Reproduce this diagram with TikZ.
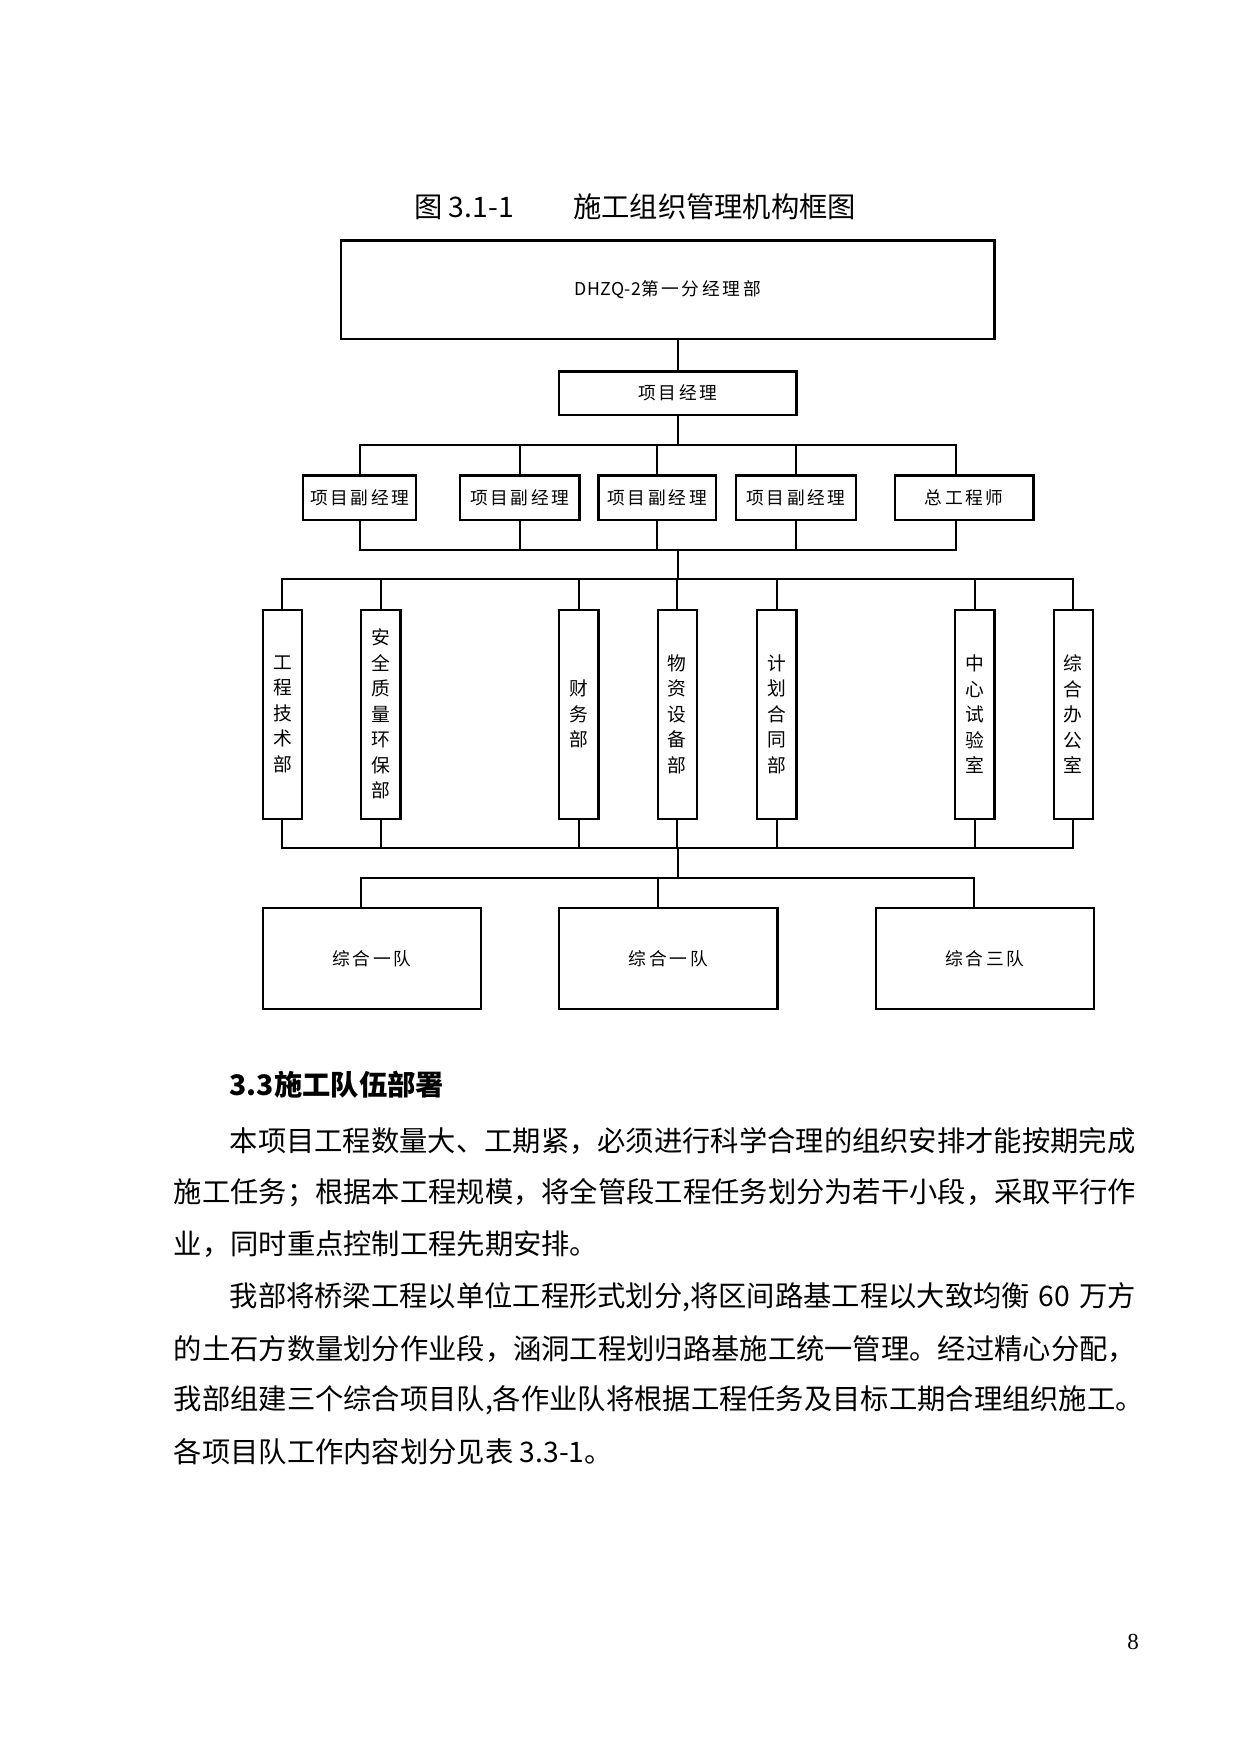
\documentclass[tikz,border=0pt]{standalone}
\usepackage{fontspec}
\setmainfont{Noto Sans CJK SC}
\newfontfamily\pagefont{Liberation Serif}
\newlength\pu \setlength\pu{0.5368pt}
\newcommand\boxfont{\fontsize{8.5}{10}\selectfont\addfontfeature{LetterSpace=15}}
\newcommand\vfont{\fontsize{9}{12.24}\selectfont}
\newcommand\bodyfont{\fontsize{13.58}{16}\selectfont}
\begin{document}
\begin{tikzpicture}[x=0.5368pt,y=-0.5368pt,
  box/.style={draw, line width=1.1pt, inner sep=0pt, font=\boxfont},
  vbox/.style={draw, line width=1.1pt, inner sep=0pt, align=center, font=\vfont,
    minimum width=35\pu, minimum height=187\pu},
  hbox/.style={box, minimum height=40\pu},
  tbox/.style={box, minimum width=195\pu, minimum height=90\pu},
  con/.style={line width=1pt},
  body/.style={anchor=west, inner sep=0pt, font=\bodyfont}]
\useasboundingbox[fill=white] (0,0) rectangle (1109,1568);

% title
\node[body] (ttl1) at (370,185) {图 3.1-1};
\node[body] (ttl2) at (512,185) {施工组织管理机构框图};

% top boxes
\node[box, minimum width=584\pu, minimum height=88\pu] (top) at (597,259) {{\addfontfeature{LetterSpace=2}DHZQ-2}第一分经理部};
\node[box, minimum width=212\pu, minimum height=39\pu] (pm) at (606,351.5) {项目经理};
\draw[con] (top.south -| pm) -- (pm.north);

% deputies
\node[hbox, minimum width=101\pu] (d1) at (321.5,445) {项目副经理};
\node[hbox, minimum width=107\pu] (d2) at (464.5,445) {项目副经理};
\node[hbox, minimum width=105\pu] (d3) at (587.5,445) {项目副经理};
\node[hbox, minimum width=107\pu] (d4) at (711.5,445) {项目副经理};
\node[hbox, minimum width=124\pu] (ce) at (862,445) {总工程师};

\coordinate (j1) at (606,398);
\coordinate (j2) at (606,492);
\coordinate (j3) at (606,518);
\draw[con] (pm.south) -- (j1);
\foreach \n in {d1,d2,d3,d4} {
  \draw[con] (j1) -| (\n.north);
  \draw[con] (\n.south) |- (j2);
}
\draw[con] (j1) -| ([xshift=-7\pu]ce.north);
\draw[con] ([xshift=-7\pu]ce.south) |- (j2);
\draw[con] (j2) -- (j3);

% departments
\node[vbox] (v1) at (252.5,638.5) {工\\程\\技\\术\\部};
\node[vbox] (v2) at (340.5,638.5) {安\\全\\质\\量\\环\\保\\部};
\node[vbox] (v3) at (517.5,638.5) {财\\务\\部};
\node[vbox] (v4) at (605.5,638.5) {物\\资\\设\\备\\部};
\node[vbox] (v5) at (694.5,638.5) {计\\划\\合\\同\\部};
\node[vbox] (v6) at (871.5,638.5) {中\\心\\试\\验\\室};
\node[vbox] (v7) at (959.5,638.5) {综\\合\\办\\公\\室};

\coordinate (j4) at (606,758);
\coordinate (j5) at (606,785);
\foreach \n in {v1,v2,v3,v4,v5,v6,v7} {
  \draw[con] (j3) -| (\n.north);
  \draw[con] (\n.south) |- (j4);
}
\draw[con] (j4) -- (j5);

% teams
\node[tbox] (t1) at (332.5,857) {综合一队};
\node[tbox] (t2) at (597.5,857) {综合一队};
\node[tbox] (t3) at (880.5,857) {综合三队};
\foreach \n in {t1,t2,t3} {
  \draw[con] (j5) -| ([xshift=-9.5\pu]\n.north);
}

% body text
\node[body, font=\bodyfont\bfseries] (h) at (205,970) {3.3施工队伍部署};
\node[body] (l1) at (205,1020) {本项目工程数量大、工期紧，必须进行科学合理的组织安排才能按期完成};
\node[body] (l2) at (155,1066) {施工任务；根据本工程规模，将全管段工程任务划分为若干小段，采取平行作};
\node[body] (l3) at (155,1112) {业，同时重点控制工程先期安排。};
\node[body] (l4) at (205,1160) {\makebox[810\pu][s]{我部将桥梁工程以单位工程形式划分,将区间路基工程以大致均衡 60 万方}};
\node[body] (l5) at (155,1206) {的土石方数量划分作业段，涵洞工程划归路基施工统一管理。经过精心分配，};
\node[body] (l6) at (155,1252) {我部组建三个综合项目队,各作业队将根据工程任务及目标工期合理组织施工。};
\node[body] (l7) at (155,1298) {各项目队工作内容划分见表 3.3-1。};

\node[inner sep=0pt, font=\pagefont\fontsize{11}{12}\selectfont] (pg) at (1013,1468) {8};
\end{tikzpicture}
\end{document}
